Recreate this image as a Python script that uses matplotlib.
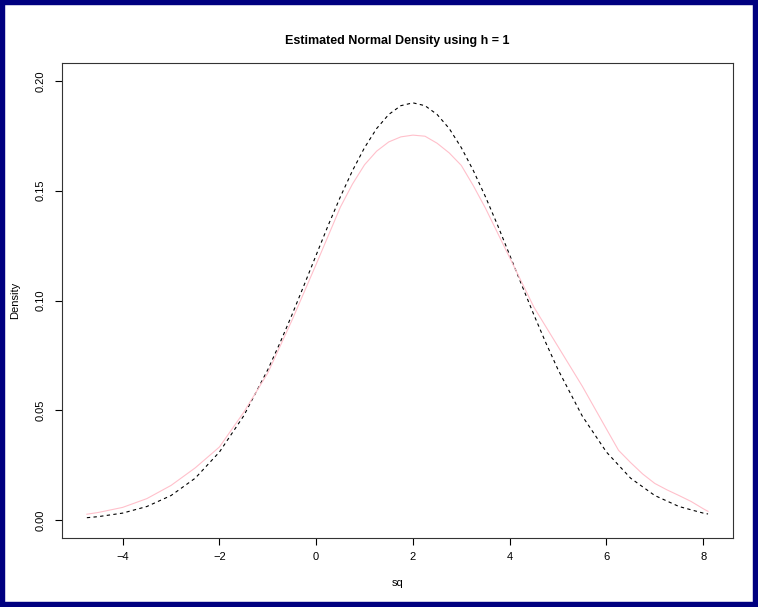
#!/usr/bin/env python3
"""Estimated normal density vs kernel estimate, R base-graphics look."""

import matplotlib

matplotlib.use("Agg")
import matplotlib.pyplot as plt
from matplotlib.patches import Rectangle

plt.rcParams["font.family"] = ["Liberation Sans", "DejaVu Sans"]

# Fitted normal density (black dashed).
normal_x = [-4.74, -4.5, -4.0, -3.5, -3.0, -2.5, -2.0, -1.5, -1.0, -0.75, -0.5, -0.25,
            0.0, 0.25, 0.5, 0.75, 1.0, 1.25, 1.5, 1.75, 2.0, 2.25, 2.5, 2.75, 3.0,
            3.25, 3.5, 3.75, 4.0, 4.25, 4.5, 4.75, 5.0, 5.5, 6.0, 6.5, 7.0, 7.5, 8.0, 8.1]
normal_y = [0.0011, 0.0016, 0.0032, 0.0062, 0.0112, 0.0191, 0.0310, 0.0474, 0.0685, 0.0806,
            0.0935, 0.1070, 0.1207, 0.1343, 0.1472, 0.1591, 0.1696, 0.1783, 0.1847, 0.1887,
            0.1900, 0.1887, 0.1847, 0.1783, 0.1696, 0.1591, 0.1472, 0.1343, 0.1207, 0.1070,
            0.0935, 0.0806, 0.0685, 0.0474, 0.0310, 0.0191, 0.0112, 0.0062, 0.0032, 0.0028]

# Kernel estimate with h = 1 (pink).
kde_x = [-4.74, -4.5, -4.0, -3.5, -3.0, -2.5, -2.0, -1.5, -1.0, -0.5, 0.0, 0.5, 0.75,
         1.0, 1.25, 1.5, 1.75, 2.0, 2.25, 2.5, 2.75, 3.0, 3.25, 3.5, 4.0, 4.5, 5.0,
         5.5, 6.0, 6.25, 6.5, 6.75, 7.0, 7.25, 7.5, 7.75, 8.0, 8.1]
kde_y = [0.0027, 0.0035, 0.0058, 0.0098, 0.0158, 0.0238, 0.0333, 0.0490, 0.0670, 0.0910,
         0.1165, 0.1425, 0.1530, 0.1618, 0.1680, 0.1722, 0.1745, 0.1753, 0.1748, 0.1716,
         0.1672, 0.1615, 0.1522, 0.1420, 0.1195, 0.0970, 0.0790, 0.0610, 0.0415, 0.0318,
         0.0262, 0.0210, 0.0167, 0.0138, 0.0112, 0.0085, 0.0052, 0.0040]

x_ticks = [-4, -2, 0, 2, 4, 6, 8]
y_ticks = [0.00, 0.05, 0.10, 0.15, 0.20]

W, H = 758, 607
fig = plt.figure(figsize=(W / 100, H / 100), dpi=100)
fig.patch.set_facecolor("white")

# navy frame around the whole picture
fig.patches.append(Rectangle((0, 0), 1, 1, transform=fig.transFigure, fill=False,
                             edgecolor="#000080", linewidth=7.5, zorder=10))

left, right, top, bottom = 62, 732.7, 63.3, 537.7
ax = fig.add_axes([left / W, 1 - bottom / H, (right - left) / W, (bottom - top) / H])

ax.plot(normal_x, normal_y, color="black", linewidth=0.8, linestyle=(0, (3, 3)))
ax.plot(kde_x, kde_y, color="#FFC0CB", linewidth=0.8)

ax.set_xlim(-5.254, 8.61)
ax.set_ylim(-0.008, 0.208)

ax.set_xticks(x_ticks, [f"\u2212{abs(t)}" if t < 0 else str(t) for t in x_ticks])
ax.set_yticks(y_ticks, [f"{t:.2f}" for t in y_ticks], rotation=90, va="center")
ax.tick_params(direction="out", length=5, width=0.8, labelsize=8, colors="black")
ax.tick_params(axis="x", pad=5)
ax.tick_params(axis="y", pad=7)
for s in ax.spines.values():
    s.set_linewidth(0.8)
    s.set_color("#333333")

ax.set_title("Estimated Normal Density using h = 1", fontsize=9, fontweight="bold", pad=14)
ax.set_xlabel("sq", fontsize=8, labelpad=12)
ax.set_ylabel("Density", fontsize=8, labelpad=11)

fig.savefig("out.png", dpi=100)
